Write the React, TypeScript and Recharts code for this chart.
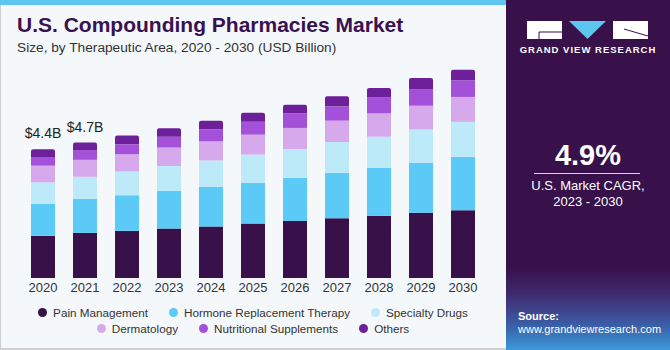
import React from 'react';
import { BarChart, Bar, XAxis, YAxis, LabelList } from 'recharts';

const years = ['2020', '2021', '2022', '2023', '2024', '2025', '2026', '2027', '2028', '2029', '2030'];
const painManagement = [1.44, 1.54, 1.61, 1.69, 1.76, 1.86, 1.95, 2.04, 2.13, 2.23, 2.32];
const hormoneReplacement = [1.10, 1.16, 1.22, 1.29, 1.36, 1.40, 1.48, 1.56, 1.63, 1.71, 1.82];
const specialtyDrugs = [0.73, 0.76, 0.81, 0.85, 0.90, 0.96, 0.98, 1.05, 1.07, 1.14, 1.20];
const dermatology = [0.57, 0.58, 0.59, 0.63, 0.65, 0.68, 0.72, 0.73, 0.80, 0.81, 0.85];
const nutritional = [0.30, 0.33, 0.34, 0.37, 0.42, 0.44, 0.49, 0.48, 0.54, 0.57, 0.57];
const others = [0.26, 0.26, 0.30, 0.29, 0.29, 0.31, 0.30, 0.35, 0.33, 0.38, 0.36];
const totalLabels = ['$4.4B', '$4.7B'];

const seriesKeys = ['pain', 'hormone', 'specialty', 'derma', 'nutri', 'others'];
const seriesNames = ['Pain Management', 'Hormone Replacement Therapy', 'Specialty Drugs', 'Dermatology', 'Nutritional Supplements', 'Others'];
const seriesColors = ['#38104a', '#5ccaf6', '#bdeaf9', '#d6a8ec', '#a550d8', '#6e209a'];

const data = years.map((y, i) => ({
  year: y,
  pain: painManagement[i],
  hormone: hormoneReplacement[i],
  specialty: specialtyDrugs[i],
  derma: dermatology[i],
  nutri: nutritional[i],
  others: others[i],
}));

const FONT = '"Liberation Sans", Arial, sans-serif';

const TopLabel = (props: any) => {
  const { x, y, width, index } = props;
  if (index >= totalLabels.length) return null;
  return (
    <text x={Number(x) + Number(width) / 2} y={Number(y) - 11} textAnchor="middle" fontSize={14} fill="#222" fontFamily={FONT}>
      {totalLabels[index]}
    </text>
  );
};

export default function App() {
  return (
    <div style={{ position: 'absolute', left: 0, top: 0, width: 670, height: 350, overflow: 'hidden', background: '#f4f8fb', fontFamily: FONT }}>
      <div style={{ position: 'absolute', left: 0, top: 0, width: 506, height: 5, background: '#5cc6ef' }} />
      <div style={{ position: 'absolute', left: 0, top: 5, width: 1, height: 345, background: '#cfcfcf' }} />
      <div style={{ position: 'absolute', left: 0, top: 348, width: 506, height: 2, background: '#cfcfcf' }} />
      <div style={{ position: 'absolute', left: 17, top: 13, fontSize: 21, fontWeight: 'bold', color: '#3a1150', whiteSpace: 'nowrap' }}>
        U.S. Compounding Pharmacies Market
      </div>
      <div style={{ position: 'absolute', left: 17, top: 40, fontSize: 13.7, color: '#333', whiteSpace: 'nowrap' }}>
        Size, by Therapeutic Area, 2020 - 2030 (USD Billion)
      </div>

      <div style={{ position: 'absolute', left: 0, top: 0 }}>
        <BarChart width={506} height={350} data={data} margin={{ top: 44, right: 22, left: 22, bottom: 42 }} barSize={24}>
          <XAxis dataKey="year" axisLine={false} tickLine={false} height={30} tick={{ fontSize: 13, fill: '#333', fontFamily: FONT }} dy={-3} interval={0} />
          <YAxis hide domain={[0, 8]} />
          {seriesKeys.map((k, i) => (
            <Bar key={k} dataKey={k} stackId="a" fill={seriesColors[i]} isAnimationActive={false}
              radius={i === seriesKeys.length - 1 ? [2, 2, 0, 0] : 0}>
              {i === seriesKeys.length - 1 ? <LabelList dataKey="others" content={TopLabel} /> : null}
            </Bar>
          ))}
        </BarChart>
      </div>

      <div style={{ position: 'absolute', left: 0, top: 304, width: 506, fontSize: 11.7, color: '#333' }}>
        {[[0, 1, 2], [3, 4, 5]].map((row, r) => (
          <div key={r} style={{ display: 'flex', justifyContent: 'center', gap: 21, height: 16.5, alignItems: 'center' }}>
            {row.map((i) => (
              <div key={i} style={{ display: 'flex', alignItems: 'center', whiteSpace: 'nowrap' }}>
                <span style={{ display: 'inline-block', width: 9, height: 9, borderRadius: 5, background: seriesColors[i], marginRight: 6 }} />
                {seriesNames[i]}
              </div>
            ))}
          </div>
        ))}
      </div>

      <div style={{ position: 'absolute', left: 506, top: 0, width: 164, height: 350, background: 'linear-gradient(to bottom, #38104a 0%, #38104a 76%, #3f2a6e 84%, #3b5ea8 93%, #3a9ad8 100%)' }}>
        <svg width={164} height={60} style={{ position: 'absolute', left: 0, top: 0 }}>
          <rect x={21} y={21} width={35} height={18} fill="#fff" />
          <line x1={33} y1={32} x2={56} y2={32} stroke="#38104a" strokeWidth={1} />
          <line x1={33} y1={32} x2={33} y2={39} stroke="#38104a" strokeWidth={1} />
          <polygon points="63,21 100,21 81.5,39" fill="#5cc6ef" />
          <rect x={107} y={21} width={35} height={18} fill="#fff" />
          <line x1={118} y1={29} x2={142} y2={36} stroke="#38104a" strokeWidth={1} />
          <text x={82} y={53} textAnchor="middle" fontSize={9.5} fontWeight="bold" fill="#fff" letterSpacing={1} fontFamily={FONT}>GRAND VIEW RESEARCH</text>
        </svg>
        <div style={{ position: 'absolute', left: 0, width: 164, top: 139, textAlign: 'center', color: '#fff', fontSize: 29, fontWeight: 'bold' }}>4.9%</div>
        <div style={{ position: 'absolute', left: 28, top: 173, width: 106, height: 1, background: '#d8cfe0' }} />
        <div style={{ position: 'absolute', left: 0, width: 164, top: 178, textAlign: 'center', color: '#fff', fontSize: 13, lineHeight: '16px' }}>
          U.S. Market CAGR,<br />2023 - 2030
        </div>
        <div style={{ position: 'absolute', left: 12, top: 310, color: '#fff', fontSize: 11, lineHeight: '13px' }}>
          <b>Source:</b><br />www.grandviewresearch.com
        </div>
      </div>
    </div>
  );
}
